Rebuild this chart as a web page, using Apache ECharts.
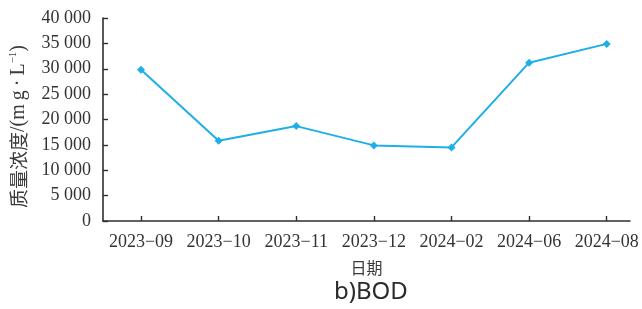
<!DOCTYPE html>
<html>
<head>
<meta charset="utf-8">
<script src="https://cdn.jsdelivr.net/npm/echarts@6/dist/echarts.min.js"></script>
<style>
html,body{margin:0;padding:0;background:#fff;}
#chart{width:642px;height:309px;}
</style>
</head>
<body>
<div id="chart"></div>
<script>
var categories = ['2023\u221209','2023\u221210','2023\u221211','2023\u221212','2024\u221202','2024\u221206','2024\u221208'];
var bodValues = [29800, 15800, 18700, 14900, 14500, 31200, 34900];
var yTicks = {min: 0, max: 40000, interval: 5000};
var titleText = 'b)BOD';
var xName = '日期';

var catIdx = categories.map(function (c, i) { return i; });
var seriesData = bodValues.map(function (v, i) { return [i, v]; });

var chart = echarts.init(document.getElementById('chart'), null, {renderer: 'canvas'});
var serif = '"Liberation Serif", "Times New Roman", "Noto Sans CJK SC", serif';
var axisColor = '#2f2f2f';
chart.setOption({
  animation: false,
  backgroundColor: '#fff',
  title: {
    text: titleText,
    left: 329, top: 275,
    textStyle: {fontFamily: '"Noto Sans", "Liberation Sans", sans-serif', fontSize: 24, fontWeight: 'normal', color: '#2a2a2a'}
  },
  grid: {left: 102, right: 12, top: 18, bottom: 88, containLabel: false},
  xAxis: {
    type: 'value',
    min: -0.49, max: 6.3,
    name: xName,
    nameLocation: 'middle',
    nameGap: 39,
    nameTextStyle: {fontFamily: '"Noto Sans CJK SC", sans-serif', fontSize: 16, color: '#3a3a3a'},
    axisLine: {onZero: false, lineStyle: {color: axisColor, width: 1.6}},
    axisTick: {show: true, inside: true, length: 5, customValues: catIdx, lineStyle: {color: axisColor, width: 1.4}},
    axisLabel: {
      fontFamily: serif, fontSize: 18, color: '#333', margin: 12,
      customValues: catIdx,
      formatter: function (v) { return categories[Math.round(v)] || ''; }
    },
    splitLine: {show: false}
  },
  yAxis: {
    type: 'value',
    min: yTicks.min, max: yTicks.max, interval: yTicks.interval,
    name: '{n|质量浓度}{l|/(m\u2009g\u2009·\u2009L}{s|\u22121}{l|)}',
    nameLocation: 'middle',
    nameGap: 74,
    nameTextStyle: {
      padding: [0, 0, 0, -14],
      rich: {
        n: {fontFamily: '"Noto Sans CJK SC", sans-serif', fontSize: 19, color: '#3a3a3a'},
        l: {fontFamily: serif, fontSize: 20, color: '#3a3a3a'},
        s: {fontFamily: serif, fontSize: 11, color: '#3a3a3a', verticalAlign: 'top', padding: [0,0,10,0]}
      }
    },
    axisLine: {show: true, onZero: false, lineStyle: {color: axisColor, width: 1.6}},
    axisTick: {show: true, inside: true, length: 5, lineStyle: {color: axisColor, width: 1.4}},
    axisLabel: {
      fontFamily: serif, fontSize: 18, color: '#333', margin: 12,
      formatter: function (v) { return String(v).replace(/\B(?=(\d{3})+(?!\d))/g, ' '); }
    },
    splitLine: {show: false}
  },
  series: [{
    type: 'line',
    data: seriesData,
    symbol: 'diamond',
    symbolSize: 8,
    lineStyle: {color: '#1eaee8', width: 2},
    itemStyle: {color: '#1eaee8'}
  }]
});
</script>
</body>
</html>
